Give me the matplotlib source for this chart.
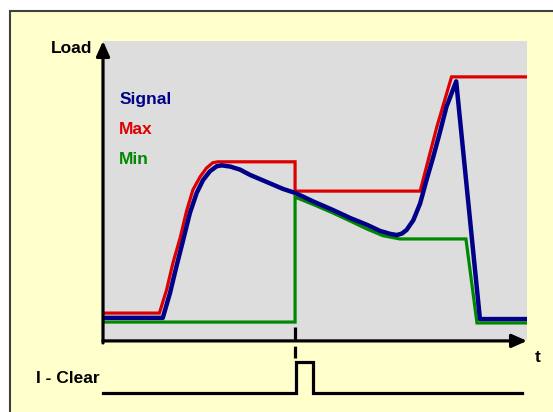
import matplotlib

matplotlib.use("Agg")

import matplotlib.pyplot as plt
from matplotlib import font_manager
from matplotlib.patches import Rectangle

# Load curves (time in % of window, load in % of axis height)
sig_t = [0.0, 14.1, 15.8, 17.3, 18.9, 20.5, 22.1, 23.6, 25.2, 26.8, 28.0, 30.0,
         32.3, 34.7, 38.7, 42.5, 45.3, 49.8, 54.2, 58.3, 62.3, 65.3, 67.7, 69.3,
         70.5, 71.6, 73.2, 74.8, 76.3, 77.9, 79.5, 81.0, 83.3, 88.9, 100.0]
sig_load = [7.4, 7.4, 15.7, 24.5, 33.4, 42.5, 49.2, 53.5, 56.4, 58.1, 58.4, 58.0,
            57.0, 55.2, 52.8, 50.5, 49.2, 46.2, 43.5, 40.8, 38.5, 36.5, 35.5, 35.1,
            35.6, 36.8, 40.1, 45.7, 53.5, 61.3, 69.7, 78.0, 86.5, 7.0, 7.0]

max_t = [0.0, 13.3, 15.0, 16.5, 18.2, 19.7, 21.2, 22.9, 24.4, 25.9, 27.1, 45.3,
         45.3, 74.8, 78.7, 82.2, 100.0]
max_load = [9.0, 9.0, 16.8, 25.8, 34.2, 43.1, 50.2, 54.6, 57.5, 59.3, 59.6, 59.6,
            49.8, 49.8, 71.1, 88.0, 88.0]

min_t = [0.0, 45.3, 45.3, 49.8, 54.2, 58.3, 62.3, 66.0, 70.0, 85.6, 88.2, 100.0]
min_load = [6.0, 6.0, 47.8, 45.2, 42.5, 39.8, 37.1, 34.9, 33.8, 33.8, 5.7, 5.7]

# I - Clear pulse
clr_t = [0.0, 45.5, 45.5, 49.5, 49.5, 98.8]
clr_level = [0, 0, 1, 1, 0, 0]
clear_time = 45.3

names = {f.name for f in font_manager.fontManager.ttflist}
if "Liberation Sans Narrow" in names:
    plt.rcParams["font.family"] = ["Liberation Sans Narrow", "DejaVu Sans"]
    fsize = 15
else:
    plt.rcParams["font.family"] = ["Liberation Sans", "DejaVu Sans"]
    fsize = 12.5

fig = plt.figure(figsize=(5.53, 4.12), dpi=100, facecolor="white")

# yellow panel
fig.patches.append(Rectangle((10 / 553, -0.05), 1.0, 1.05 - 10.5 / 412,
                             transform=fig.transFigure, facecolor="#FFFFCC",
                             edgecolor="#404040", linewidth=1.5, zorder=-5))

ax = fig.add_axes([103 / 553, (412 - 340) / 412, 424 / 553, 299 / 412])
ax.set_facecolor("#DDDDDD")
ax.set_xlim(0, 100)
ax.set_ylim(0, 100)
for s in ax.spines.values():
    s.set_visible(False)
ax.set_xticks([])
ax.set_yticks([])

ax.plot(min_t, min_load, color="#008800", linewidth=2.3, solid_joinstyle="miter")
ax.plot(max_t, max_load, color="#DD0000", linewidth=2.3, solid_joinstyle="miter")
ax.plot(sig_t, sig_load, color="#000088", linewidth=3.2, solid_joinstyle="round")

# axes with arrow heads
arrow = dict(arrowstyle="-|>,head_length=0.9,head_width=0.4", color="black",
             linewidth=2.3, shrinkA=0, shrinkB=0, mutation_scale=10)
ax.annotate("", xy=(0.0, 1.0), xytext=(0.0, -0.01), xycoords="axes fraction",
            arrowprops=arrow, annotation_clip=False)
ax.annotate("", xy=(1.0, -0.003), xytext=(0.0, -0.003), xycoords="axes fraction",
            arrowprops=arrow, annotation_clip=False)

# clear marker
ax.plot([clear_time, clear_time], [4.3, -6.0], color="black", linewidth=2.3,
        linestyle=(0, (4.5, 1.5)), clip_on=False)

bold = dict(fontweight="bold", fontsize=fsize, va="baseline")
ax.text(-0.026, 0.96, "Load", transform=ax.transAxes, ha="right", color="black", **bold)
ax.text(1.019, -0.074, "t", transform=ax.transAxes, ha="left", color="black", **bold)
ax.text(0.038, (340 - 104) / 299, "Signal", transform=ax.transAxes, ha="left",
        color="#000088", **bold)
ax.text(0.038, (340 - 134) / 299, "Max", transform=ax.transAxes, ha="left",
        color="#DD0000", **bold)
ax.text(0.038, (340 - 164) / 299, "Min", transform=ax.transAxes, ha="left",
        color="#008800", **bold)

ax2 = fig.add_axes([103 / 553, (412 - 393) / 412, 424 / 553, 31 / 412])
ax2.set_xlim(0, 100)
ax2.set_ylim(0, 1)
ax2.axis("off")
ax2.plot(clr_t, clr_level, color="black", linewidth=2.3, clip_on=False,
         solid_joinstyle="miter")
ax2.text(-0.009, 0.32, "I - Clear", transform=ax2.transAxes, ha="right",
         color="black", **bold)

fig.savefig("out.png", dpi=100, facecolor="white")
